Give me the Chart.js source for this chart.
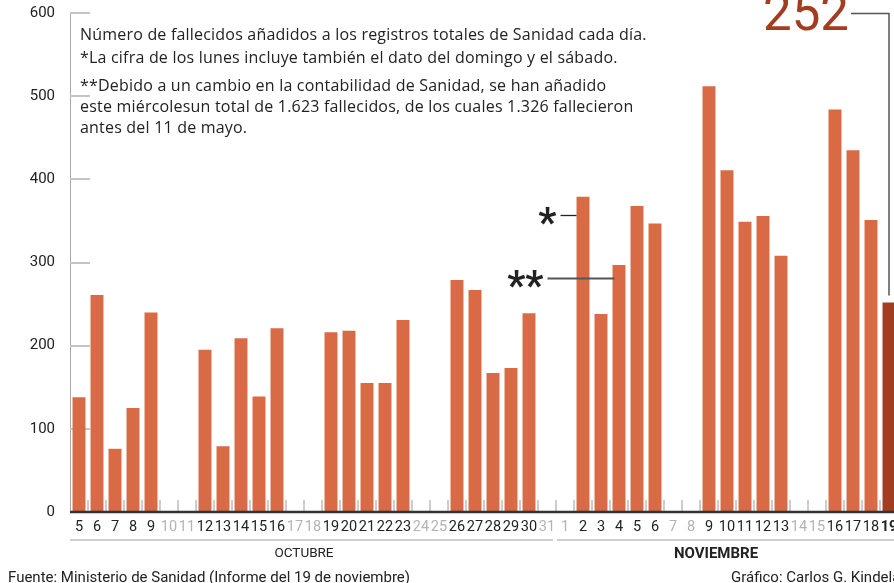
<!DOCTYPE html>
<html lang="es">
<head>
<meta charset="utf-8">
<script src="https://cdn.jsdelivr.net/npm/chart.js@4"></script>
<style>
  html, body { margin: 0; padding: 0; width: 894px; height: 583px; overflow: hidden; background: #fff; }
  body { font-family: Roboto, sans-serif; color: #222; }
  #wrap { position: relative; width: 894px; height: 583px; }
  canvas { position: absolute; left: 0; top: 0; }
  .txt { position: absolute; white-space: nowrap; }
  .note { left: 80px; font-family: "Open Sans", Roboto, sans-serif; font-size: 16px; letter-spacing: 0.2px; }
  .month { top: 544px; font-size: 13.5px; transform: translateX(-50%); }
  .foot { top: 568px; font-size: 15px; }
</style>
</head>
<body>
<div id="wrap">
  <canvas id="chart" width="904" height="583"></canvas>
  <div class="txt note" style="top:23px; line-height:23px;">Número de fallecidos añadidos a los registros totales de Sanidad cada día.<br>*La cifra de los lunes incluye también el dato del domingo y el sábado.</div>
  <div class="txt note" style="top:75px; line-height:21px;">**Debido a un cambio en la contabilidad de Sanidad, se han añadido<br>este miércolesun total de 1.623 fallecidos, de los cuales 1.326 fallecieron<br>antes del 11 de mayo.</div>
  <div class="txt month" style="left:304px;">OCTUBRE</div>
  <div class="txt month" style="left:716px; font-weight:bold; font-size:15px;">NOVIEMBRE</div>
  <div class="txt foot" style="left:8px;">Fuente: Ministerio de Sanidad (Informe del 19 de noviembre)</div>
  <div class="txt foot" style="left:731px;">Gráfico: Carlos G. Kindelán</div>
</div>
<script>
// Days shown on the x axis (5 Oct - 19 Nov)
const days = [
  '5','6','7','8','9','10','11','12','13','14','15','16','17','18','19','20',
  '21','22','23','24','25','26','27','28','29','30','31',
  '1','2','3','4','5','6','7','8','9','10','11','12','13','14','15','16','17','18','19'
];

// Deaths added each day (null = no report)
const deaths = [
  138, 261, 76, 125, 240, null, null, 195, 79, 209, 139, 221, null, null, 216, 218,
  155, 155, 231, null, null, 279, 267, 167, 173, 239, null,
  null, 379, 238, 297, 368, 347, null, null, 512, 411, 349, 356, 308, null, null, 484, 435, 351, 252
];

// Index where November starts
const novStart = 27;

// Asterisk notes: index of the bar and the level of the leader line
const marks = [
  { index: 28, text: '*', level: 357, lead: 16, color: '#222', width: 1.3 },
  { index: 30, text: '**', level: 281, lead: 65, color: '#555', width: 2 }
];

const last = deaths.length - 1;
const orange = '#d86b46';
const dark = '#a23d21';

// Draws the axes, tick marks, brackets and labels around the bars
const decor = {
  id: 'decor',
  beforeDatasetsDraw(chart) {
    const { ctx, chartArea: a, scales: { x, y } } = chart;
    ctx.save();
    ctx.strokeStyle = '#a8a8a8';
    ctx.lineWidth = 1;
    ctx.beginPath();
    ctx.moveTo(a.left + 0.5, a.top);
    ctx.lineTo(a.left + 0.5, a.bottom);
    ctx.stroke();

    ctx.strokeStyle = '#c4c4c4';
    ctx.lineWidth = 2;
    y.ticks.forEach(t => {
      if (t.value === 0) return;
      const py = Math.round(y.getPixelForValue(t.value));
      ctx.beginPath();
      ctx.moveTo(a.left, py);
      ctx.lineTo(a.left + 20, py);
      ctx.stroke();
    });

    const step = x.getPixelForValue(1) - x.getPixelForValue(0);
    ctx.strokeStyle = '#cdcdcd';
    for (let i = 1; i < days.length; i++) {
      const px = Math.round(x.getPixelForValue(i) - step / 2);
      ctx.beginPath();
      ctx.moveTo(px, a.bottom - 12);
      ctx.lineTo(px, a.bottom);
      ctx.stroke();
    }
    ctx.restore();
  },
  afterDatasetsDraw(chart) {
    const { ctx, chartArea: a, scales: { x } } = chart;
    const meta = chart.getDatasetMeta(0);
    const step = x.getPixelForValue(1) - x.getPixelForValue(0);
    ctx.save();

    // baseline
    ctx.strokeStyle = '#333';
    ctx.lineWidth = 2.5;
    ctx.beginPath();
    ctx.moveTo(a.left, a.bottom);
    ctx.lineTo(chart.width, a.bottom);
    ctx.stroke();

    // month brackets
    const split = x.getPixelForValue(novStart) - step / 2;
    const by = a.bottom + 28;
    ctx.strokeStyle = '#cfcfcf';
    ctx.lineWidth = 2;
    ctx.beginPath();
    ctx.moveTo(a.left, by);
    ctx.lineTo(split - 3, by);
    ctx.moveTo(split + 1, by);
    ctx.lineTo(chart.width, by);
    ctx.stroke();

    // asterisk notes
    const yScale = chart.scales.y;
    marks.forEach(m => {
      const bar = meta.data[m.index];
      const left = bar.x - bar.width / 2;
      const ly = Math.round(yScale.getPixelForValue(m.level)) + 0.5;
      const start = left - m.lead;
      ctx.strokeStyle = m.color;
      ctx.lineWidth = m.width;
      ctx.beginPath();
      ctx.moveTo(start, ly);
      ctx.lineTo(left + (m.text === '**' ? 2 : 0), ly);
      ctx.stroke();

      ctx.font = 'bold 40px Roboto';
      ctx.fillStyle = '#222';
      ctx.textAlign = 'right';
      ctx.textBaseline = 'alphabetic';
      const mt = ctx.measureText(m.text);
      const base = ly + (mt.actualBoundingBoxAscent - mt.actualBoundingBoxDescent) / 2;
      ctx.fillText(m.text, start - 4, base);
    });

    // highlighted last value
    const lb = meta.data[last];
    const tx = lb.x - 39;
    ctx.strokeStyle = '#555';
    ctx.lineWidth = 1.5;
    ctx.beginPath();
    ctx.moveTo(tx + 1, a.top + 0.5);
    ctx.lineTo(lb.x, a.top + 0.5);
    ctx.lineTo(lb.x, lb.y - 7);
    ctx.stroke();
    ctx.font = '51px Roboto';
    ctx.fillStyle = dark;
    ctx.textAlign = 'right';
    ctx.textBaseline = 'alphabetic';
    ctx.fillText(String(deaths[last]), tx - 1, 30);

    ctx.restore();
  }
};

const chart = new Chart(document.getElementById('chart'), {
  type: 'bar',
  data: {
    labels: days,
    datasets: [{
      data: deaths,
      backgroundColor: deaths.map((v, i) => i === last ? dark : orange),
      barPercentage: 0.72,
      categoryPercentage: 1
    }]
  },
  options: {
    responsive: false,
    animation: false,
    layout: { padding: { top: 13, right: 6, left: 0, bottom: 0 } },
    plugins: { legend: { display: false }, tooltip: { enabled: false } },
    scales: {
      x: {
        grid: { display: false, drawTicks: false },
        border: { display: false },
        ticks: {
          autoSkip: false,
          maxRotation: 0,
          padding: 7,
          color: c => deaths[c.index] === null ? '#b3b3b3' : '#222',
          font: c => ({ family: 'Roboto', size: 14.5, weight: c.index === last ? 'bold' : 'normal' })
        },
        afterFit: s => { s.height = 71; s.paddingLeft = 0; s.paddingRight = 0; }
      },
      y: {
        min: 0,
        max: 600,
        grid: { display: false, drawTicks: false },
        border: { display: false },
        ticks: { stepSize: 100, padding: 15, color: '#222', font: { family: 'Roboto', size: 15 } },
        afterFit: s => { s.width = 70; s.paddingTop = 0; s.paddingBottom = 0; }
      }
    }
  },
  plugins: [decor]
});
</script>
</body>
</html>
